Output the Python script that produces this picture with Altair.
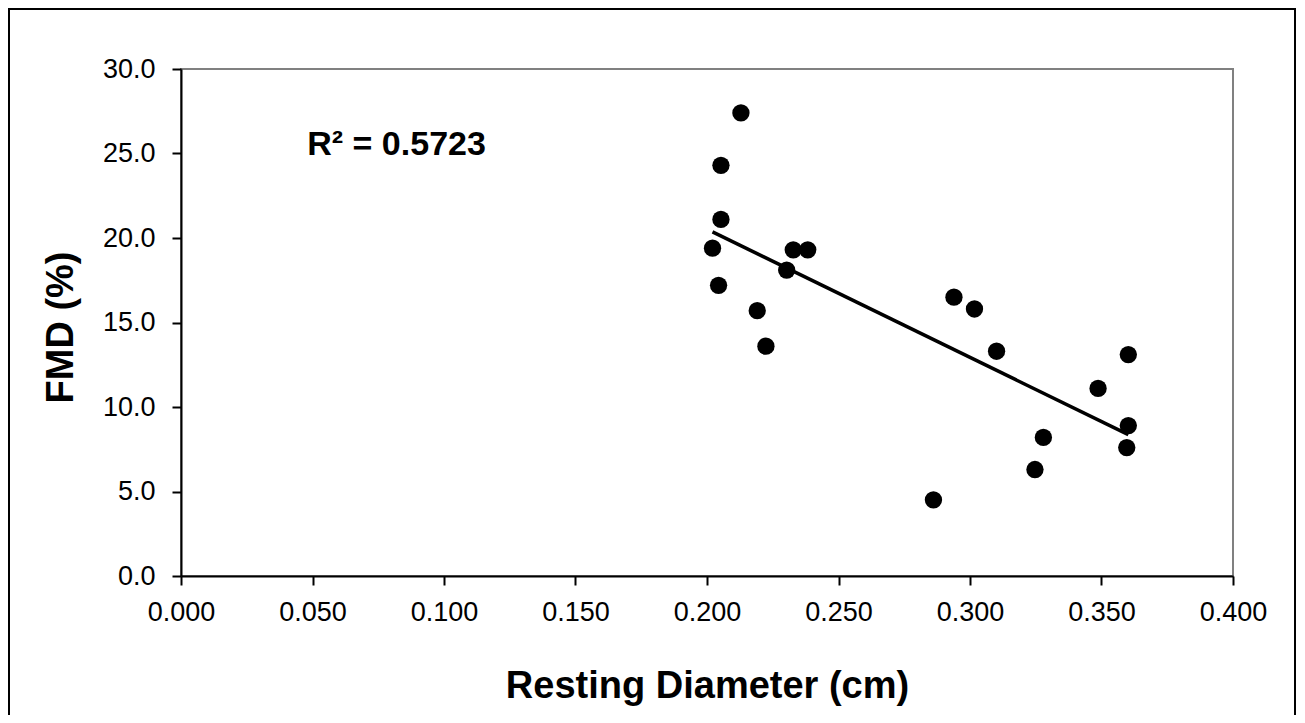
import altair as alt
import pandas as pd

# Data
resting_diameter_cm = [0.2129, 0.2053, 0.2053, 0.2021, 0.2044, 0.2191, 0.2224, 0.2303, 0.2328, 0.2383,
                       0.2939, 0.3017, 0.3101, 0.2861, 0.3279, 0.3247, 0.3487, 0.3602, 0.3602, 0.3596]
fmd_percent = [27.4, 24.3, 21.1, 19.4, 17.2, 15.7, 13.6, 18.1, 19.3, 19.3,
               16.5, 15.8, 13.3, 4.5, 8.2, 6.3, 11.1, 13.1, 8.9, 7.6]
x_ticks = [0.0, 0.05, 0.10, 0.15, 0.20, 0.25, 0.30, 0.35, 0.40]
y_ticks = [0.0, 5.0, 10.0, 15.0, 20.0, 25.0, 30.0]
r2_label = "R² = 0.5723"
x_title = "Resting Diameter (cm)"
y_title = "FMD (%)"

df = pd.DataFrame({"x": resting_diameter_cm, "y": fmd_percent})

FONT = "Liberation Sans"

x_enc = alt.X("x:Q",
              scale=alt.Scale(domain=[0, 0.4], nice=False, zero=False),
              axis=alt.Axis(values=x_ticks, format=".3f", title=x_title,
                            labelFlush=False,
                            titleY=121, titleBaseline="alphabetic"))
y_enc = alt.Y("y:Q",
              scale=alt.Scale(domain=[0, 30], nice=False),
              axis=alt.Axis(values=y_ticks, format=".1f", title=y_title,
                            labelFlush=False,
                            titleX=-109, titleY=258, titleBaseline="alphabetic"))

base = alt.Chart(df)

points = base.mark_circle(size=300, color="black", opacity=1).encode(x=x_enc, y=y_enc)

trend = base.transform_regression("x", "y").mark_line(color="black", strokeWidth=3.5).encode(
    x="x:Q", y="y:Q")

label = alt.Chart(alt.Data(values=[{"t": r2_label}])).mark_text(
    font=FONT, fontSize=34, fontWeight="bold", align="left", baseline="alphabetic", color="black"
).encode(x=alt.datum(0.048), y=alt.datum(24.9), text="t:N")

frame = alt.Chart(alt.Data(values=[{}])).mark_rect(
    fillOpacity=0, stroke="black", strokeWidth=2, clip=False
).encode(x=alt.value(-172), x2=alt.value(1114), y=alt.value(-60), y2=alt.value(700))

chart = alt.layer(frame, trend, points, label).properties(
    width=1052, height=507,
    autosize=alt.AutoSizeParams(type="none"),
    padding={"left": 173, "top": 61, "right": 64, "bottom": 139},
).configure_view(
    stroke="#808080", strokeWidth=2
).configure_axis(
    grid=False,
    labelFont=FONT, labelFontSize=27, labelColor="black",
    titleFont=FONT, titleFontSize=38, titleFontWeight="bold", titleColor="black",
    domainColor="black", domainWidth=2,
    tickColor="black", tickWidth=2, tickSize=9,
).configure_axisY(
    labelPadding=17
).configure_axisX(
    labelPadding=14
)

chart.save("out.html", embed_options={"renderer": "svg", "actions": False})
